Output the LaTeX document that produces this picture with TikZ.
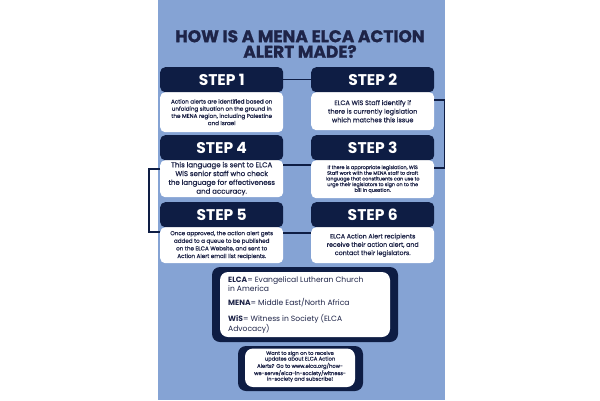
\documentclass[tikz,border=0pt]{standalone}
\usepackage{fontspec}
\setmainfont{Poppins}
\newfontfamily\medfont{Poppins}[FakeBold=0.6]
\newfontfamily\heavyfont{Poppins}[BoldFeatures={FakeBold=1.2}]
\definecolor{bgblue}{RGB}{133,163,212}
\definecolor{navy}{RGB}{14,29,68}
\definecolor{ink}{RGB}{30,36,72}
\tikzset{
  hdr/.style={fill=navy, rounded corners=5pt, minimum width=123pt, minimum height=25pt,
    text=white, font=\bfseries\fontsize{15.5}{15.5}\selectfont, inner sep=0pt, anchor=north west},
  body/.style={fill=white, rounded corners=5pt, minimum width=123pt, text=ink,
    align=center, inner sep=0pt, anchor=north west},
  link/.style={draw=navy, line width=1.1pt},
  outerbox/.style={fill=navy, rounded corners=8pt},
  innerbox/.style={fill=white, rounded corners=8pt}
}
\begin{document}
\begin{tikzpicture}[x=1pt,y=-1pt]
\useasboundingbox (0,0) rectangle (600,400);
\fill[white] (0,0) rectangle (600,400);
\fill[bgblue] (158,0) rectangle (445,400);

\node[text=ink, align=center, font=\heavyfont\bfseries\fontsize{17}{15.5}\selectfont] (title) at (300,44)
  {HOW IS A MENA ELCA ACTION\\ALERT MADE?};

% Step 1
\node[body, minimum height=40pt, font=\medfont\fontsize{5.6}{7.2}\selectfont] (b1) at (160,92)
  {Action alerts are identified based on\\unfolding situation on the ground in\\the MENA region, including Palestine\\and Israel};
\node[hdr] (h1) at (160,67) {STEP 1};
% Step 2
\node[body, minimum height=38pt, font=\medfont\fontsize{6.5}{8.6}\selectfont] (b2) at (311,92)
  {ELCA WiS Staff identify if\\there is currently legislation\\which matches this issue};
\node[hdr] (h2) at (311,67) {STEP 2};
% Step 4
\node[body, minimum height=37pt, font=\medfont\fontsize{7}{8.8}\selectfont] (b4) at (160,160)
  {This language is sent to ELCA\\WiS senior staff who check\\the language for effectiveness\\and accuracy.};
\node[hdr] (h4) at (160,135) {STEP 4};
% Step 3
\node[body, minimum height=38pt, font=\medfont\fontsize{4.9}{5.7}\selectfont] (b3) at (311,160)
  {If there is appropriate legislation, WiS\\Staff work with the MENA staff to draft\\language that constituents can use to\\urge their legislators to sign on to the\\bill in question.};
\node[hdr] (h3) at (311,135) {STEP 3};
% Step 5
\node[body, minimum height=36pt, font=\medfont\fontsize{5.6}{7.6}\selectfont] (b5) at (160,227)
  {Once approved, the action alert gets\\added to a queue to be published\\on the ELCA Website, and sent to\\Action Alert email list recipients.};
\node[hdr] (h5) at (160,202) {STEP 5};
% Step 6
\node[body, minimum height=36pt, font=\medfont\fontsize{6.3}{8.3}\selectfont] (b6) at (311,227)
  {ELCA Action Alert recipients\\receive their action alert, and\\contact their legislators.};
\node[hdr] (h6) at (311,202) {STEP 6};

% connectors
\draw[link] (h1.east) -- (h2.west);
\draw[link] ([yshift=-8pt]b2.north east) -- ++(10,0) |- ([yshift=-8pt]b3.north east);
\draw[link] ([yshift=-5pt]b3.north west) -- ([yshift=-5pt]b4.north east);
\draw[link] ([yshift=-9pt]b4.north west) -- ++(-11,0) |- ([yshift=-5pt]b5.north west);
\draw[link] ([yshift=-6pt]b5.north east) -- ([yshift=-6pt]b6.north west);

% definitions
\fill[outerbox] (212,267) rectangle (398,342);
\fill[innerbox] (220,272) rectangle (390,337);
\node[anchor=north west, text=ink, align=left, inner sep=0pt,
  font=\fontsize{7.6}{7.6}\selectfont] (defs) at (228,276.5)
  {\textbf{ELCA}= Evangelical Lutheran Church\\in America\\[6.5pt]
   \textbf{MENA}= Middle East/North Africa\\[6.5pt]
   \textbf{WiS}= Witness in Society (ELCA\\Advocacy)};

% subscribe box
\fill[outerbox] (238,346) rectangle (363,391);
\fill[innerbox] (245,348.5) rectangle (355,387);
\node[text=ink, align=center, inner sep=0pt, font=\medfont\fontsize{5.2}{5.6}\selectfont] (sub) at (300,366.5)
  {Want to sign on to receive\\updates about ELCA Action\\Alerts? Go to www.elca.org/how-\\we-serve/elca-in-society/witness-\\in-society and subscribe!};
\end{tikzpicture}
\end{document}
